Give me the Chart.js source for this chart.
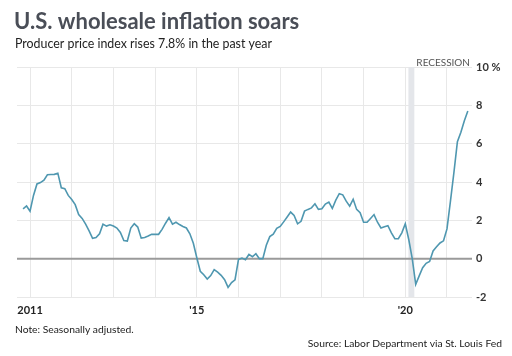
<!DOCTYPE html>
<html>
<head>
<meta charset="utf-8">
<script src="https://cdn.jsdelivr.net/npm/chart.js@4/dist/chart.umd.min.js"></script>
<style>
  html, body { margin: 0; padding: 0; background: #ffffff; }
  #wrap { position: relative; width: 512px; height: 356px; }
  canvas { display: block; }
</style>
</head>
<body>
<div id="wrap"><canvas id="c" width="512" height="356"></canvas></div>
<script>
// Month index: 0 = Jan 2011; series starts Nov 2010 (index -2) and ends Jul 2021 (index 126)
const startMonth = -2;
const ppiYoY = [
  2.6, 2.75,
  // 2011
  2.48, 3.3, 3.9, 3.97, 4.1, 4.38, 4.39, 4.4, 4.46, 3.7, 3.65, 3.3,
  // 2012
  3.09, 2.82, 2.3, 2.1, 1.8, 1.45, 1.06, 1.1, 1.3, 1.8, 1.7, 1.77,
  // 2013
  1.7, 1.6, 1.37, 0.95, 0.92, 1.6, 1.82, 1.65, 1.07, 1.1, 1.18, 1.27,
  // 2014
  1.27, 1.27, 1.53, 1.85, 2.14, 1.8, 1.9, 1.78, 1.68, 1.6, 1.3, 0.8,
  // 2015
  0.05, -0.66, -0.84, -1.06, -0.88, -0.57, -0.7, -0.87, -1.1, -1.5, -1.25, -1.1,
  // 2016
  -0.04, 0.03, -0.05, 0.22, 0.1, 0.26, 0.0, 0.0, 0.7, 1.15, 1.28, 1.58,
  // 2017
  1.68, 1.92, 2.17, 2.43, 2.25, 1.82, 1.95, 2.48, 2.57, 2.65, 2.86, 2.57,
  // 2018
  2.6, 2.85, 2.95, 2.62, 3.05, 3.39, 3.33, 3.0, 2.74, 3.1, 2.57, 2.4,
  // 2019
  1.9, 1.9, 2.1, 2.3, 1.9, 1.6, 1.66, 1.72, 1.35, 1.04, 1.04, 1.35,
  // 2020
  1.82, 1.0, 0.0, -1.34, -0.9, -0.47, -0.24, -0.15, 0.4, 0.62, 0.82, 0.93,
  // 2021
  1.55, 3.0, 4.5, 6.1, 6.6, 7.2, 7.7
];
const yearTicks = [0, 12, 24, 36, 48, 60, 72, 84, 96, 108, 120];
const yearLabels = {0: '2011', 48: "'15", 108: "'20"};
const yTicks = [-2, 0, 2, 4, 6, 8, 10];
const recession = [108.9, 110.6];

const points = ppiYoY.map((v, i) => ({x: startMonth + i, y: v}));

const FONT = "Lato, 'Open Sans', sans-serif";

const decor = {
  id: 'decor',
  beforeDatasetsDraw(chart) {
    const {ctx, chartArea, scales} = chart;
    const x0 = scales.x.getPixelForValue(recession[0]);
    const x1 = scales.x.getPixelForValue(recession[1]);
    ctx.save();
    ctx.fillStyle = '#e4e6ea';
    ctx.fillRect(x0, chartArea.top, x1 - x0, chartArea.bottom - chartArea.top);
    // zero line
    const y0 = scales.y.getPixelForValue(0);
    ctx.strokeStyle = '#9a9a9a';
    ctx.lineWidth = 2;
    ctx.beginPath();
    ctx.moveTo(chartArea.left, y0);
    ctx.lineTo(chartArea.right, y0);
    ctx.stroke();
    ctx.restore();
  },
  afterDraw(chart) {
    const {ctx} = chart;
    ctx.save();
    ctx.textBaseline = 'alphabetic';
    ctx.fillStyle = '#4a4e57';
    ctx.font = "bold 22px " + FONT;
    ctx.textAlign = 'left';
    ctx.fillText('U.S. wholesale inflation soars', 14, 28.5);
    ctx.fillStyle = '#222';
    ctx.font = "12.4px " + FONT;
    ctx.fillText('Producer price index rises 7.8% in the past year', 15, 48);
    ctx.fillStyle = '#555';
    ctx.font = "10px " + FONT;
    ctx.textAlign = 'right';
    ctx.fillText('RECESSION', 470, 66);
    ctx.textAlign = 'left';
    ctx.fillStyle = '#222';
    ctx.font = "10.3px " + FONT;
    ctx.fillText('Note: Seasonally adjusted.', 15, 333);
    ctx.textAlign = 'right';
    ctx.fillText('Source: Labor Department via St. Louis Fed', 502, 347);
    ctx.restore();
  }
};

new Chart(document.getElementById('c'), {
  type: 'line',
  data: {
    datasets: [{
      data: points,
      borderColor: '#4f97b0',
      borderWidth: 1.6,
      pointRadius: 0,
      tension: 0,
      fill: false
    }]
  },
  options: {
    responsive: false,
    animation: false,
    events: [],
    layout: { padding: { left: 17, right: 0, top: 67, bottom: 33 } },
    plugins: { legend: { display: false }, tooltip: { enabled: false }, title: { display: false } },
    scales: {
      x: {
        type: 'linear',
        min: -3.75,
        max: 127.2,
        afterBuildTicks(scale) { scale.ticks = yearTicks.map(v => ({value: v})); },
        afterFit(scale) { scale.height = 26; },
        border: { display: false },
        grid: { color: '#e8e8e8', lineWidth: 1, drawTicks: false },
        ticks: {
          autoSkip: false,
          maxRotation: 0,
          padding: 7,
          color: '#222',
          font: { family: FONT, size: 11, weight: 'bold' },
          callback: (v) => yearLabels[v] || ''
        }
      },
      y: {
        position: 'right',
        min: -2,
        max: 10,
        afterBuildTicks(scale) { scale.ticks = yTicks.map(v => ({value: v})); },
        afterFit(scale) { scale.width = 40; },
        border: { display: false },
        grid: { color: '#e8e8e8', lineWidth: 1, drawTicks: false },
        ticks: {
          padding: 4,
          color: '#333',
          font: { family: FONT, size: 11, weight: 'bold' },
          callback: (v) => v === 10 ? '10 %' : String(v)
        }
      }
    }
  },
  plugins: [decor]
});
</script>
</body>
</html>
